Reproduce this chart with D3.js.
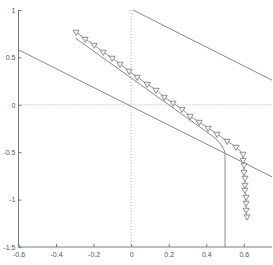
<!DOCTYPE html>
<html><head><meta charset="utf-8">
<script src="https://cdn.jsdelivr.net/npm/d3@7"></script>
<style>html,body{margin:0;padding:0;background:#fff;}svg{display:block;}</style>
</head><body>
<script>
const xTicks = [-0.6, -0.4, -0.2, 0, 0.2, 0.4, 0.6];
const yTicks = [1, 0.5, 0, -0.5, -1, -1.5];
const xTickLabels = ["-0.6", "-0.4", "-0.2", "0", "0.2", "0.4", "0.6"];
const yTickLabels = ["1", "0.5", "0", "-0.5", "-1", "-1.5"];
const lineOrigin = [[-0.6, 0.58], [0.75, -0.76]];
const lineUpper = [[0.01, 1.0], [0.75, 0.26]];
const lineBent = [[-0.298, 0.705], [0.447, -0.35], [0.468, -0.394], [0.484, -0.436], [0.495, -0.478], [0.50, -0.52], [0.50, -1.5]];
const markerPath = [
  [-0.293, 0.768], [-0.245, 0.694], [-0.197, 0.631], [-0.149, 0.557], [-0.101, 0.494],
  [-0.059, 0.430], [-0.011, 0.357], [0.032, 0.293], [0.085, 0.219], [0.133, 0.156],
  [0.176, 0.082], [0.223, 0.019], [0.271, -0.045], [0.314, -0.119], [0.362, -0.182],
  [0.410, -0.245], [0.457, -0.308], [0.511, -0.382], [0.559, -0.445], [0.596, -0.519],
  [0.596, -0.583], [0.601, -0.635], [0.601, -0.709], [0.606, -0.772], [0.606, -0.846],
  [0.606, -0.899], [0.612, -0.973], [0.612, -1.036], [0.612, -1.11], [0.617, -1.18]
];

const W = 273, H = 265;
const svg = d3.select("body").append("svg").attr("width", W).attr("height", H);
const x = d3.scaleLinear().domain([-0.6, 0.75]).range([18.5, 272]);
const y = d3.scaleLinear().domain([-1.5, 1]).range([247, 10]);
const line = d3.line().x(d => x(d[0])).y(d => y(d[1]));

// dotted zero lines
svg.append("line").attr("x1", x(0)).attr("x2", x(0)).attr("y1", y(1)).attr("y2", y(-1.5))
  .attr("stroke", "#999").attr("stroke-width", 0.8).attr("stroke-dasharray", "1,2");
svg.append("line").attr("x1", x(-0.6)).attr("x2", x(0.75)).attr("y1", y(0)).attr("y2", y(0))
  .attr("stroke", "#999").attr("stroke-width", 0.8).attr("stroke-dasharray", "1,2");

const lc = "#8a8a8a";
[lineOrigin, lineUpper, lineBent].forEach(d => {
  svg.append("path").attr("d", line(d)).attr("fill", "none").attr("stroke", lc).attr("stroke-width", 1);
});
svg.append("path").attr("d", line(markerPath)).attr("fill", "none").attr("stroke", lc).attr("stroke-width", 0.9);
const tri = d3.symbol().type(d3.symbolTriangle).size(16);
svg.selectAll("path.mk").data(markerPath).enter().append("path").attr("class", "mk")
  .attr("d", tri)
  .attr("transform", d => `translate(${x(d[0])},${y(d[1])}) rotate(180)`)
  .attr("fill", "#f4f4f4").attr("stroke", "#777").attr("stroke-width", 0.8);

// axes
const font = "Liberation Sans, Arial, sans-serif";
const xAxis = d3.axisBottom(x).tickValues(xTicks).tickSize(-3).tickPadding(5)
  .tickFormat((d, i) => xTickLabels[i]);
const gx = svg.append("g").attr("transform", `translate(0,${y(-1.5)})`).call(xAxis);
gx.select(".domain").attr("stroke", "#5f8a86").attr("d", `M${x(-0.6)},0H${x(0.75)}`);
gx.selectAll(".tick line").attr("stroke", "#777");
gx.selectAll("text").attr("font-size", 7).attr("font-family", font).attr("fill", "#555");

const yAxis = d3.axisLeft(y).tickValues(yTicks).tickSize(-3).tickPadding(3)
  .tickFormat((d, i) => yTickLabels[i]);
const gy = svg.append("g").attr("transform", `translate(${x(-0.6)},0)`).call(yAxis);
gy.select(".domain").attr("stroke", "#777").attr("d", `M0,${y(1)}V${y(-1.5)}`);
gy.selectAll(".tick line").attr("stroke", "#777");
gy.selectAll("text").attr("font-size", 7).attr("font-family", font).attr("fill", "#555");
</script>
</body></html>
